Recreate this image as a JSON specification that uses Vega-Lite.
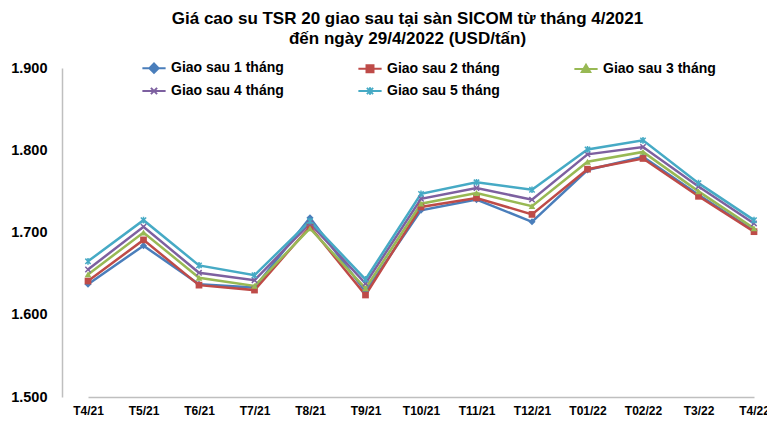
{
  "$schema": "https://vega.github.io/schema/vega-lite/v6.json",
  "width": 705,
  "height": 329,
  "autosize": {"type": "none"},
  "padding": {"left": 62, "top": 68, "right": 0, "bottom": 24},
  "background": "white",
  "title": {
    "text": ["Giá cao su TSR 20 giao sau tại sàn SICOM từ tháng 4/2021", "đến ngày 29/4/2022 (USD/tấn)"],
    "font": "Liberation Sans",
    "fontSize": 17,
    "fontWeight": "bold",
    "lineHeight": 20,
    "anchor": "middle",
    "dx": -7,
    "offset": 12,
    "color": "#000000"
  },
  "config": {
    "view": {"stroke": null},
    "legend": {
      "orient": "none",
      "legendX": 85,
      "legendY": -7,
      "direction": "horizontal",
      "columns": 3,
      "columnPadding": 70,
      "rowPadding": 6,
      "labelFont": "Liberation Sans",
      "labelFontSize": 14,
      "labelFontWeight": "bold",
      "labelColor": "#000000",
      "labelOffset": 10,
      "symbolSize": 60,
      "symbolStrokeWidth": 2,
      "title": null
    }
  },
  "data": {
    "values": [
      {"month": "T4/21", "series": "Giao sau 1 tháng", "value": 1637},
      {"month": "T5/21", "series": "Giao sau 1 tháng", "value": 1684},
      {"month": "T6/21", "series": "Giao sau 1 tháng", "value": 1637},
      {"month": "T7/21", "series": "Giao sau 1 tháng", "value": 1633},
      {"month": "T8/21", "series": "Giao sau 1 tháng", "value": 1718},
      {"month": "T9/21", "series": "Giao sau 1 tháng", "value": 1628},
      {"month": "T10/21", "series": "Giao sau 1 tháng", "value": 1727},
      {"month": "T11/21", "series": "Giao sau 1 tháng", "value": 1740},
      {"month": "T12/21", "series": "Giao sau 1 tháng", "value": 1713},
      {"month": "T01/22", "series": "Giao sau 1 tháng", "value": 1776},
      {"month": "T02/22", "series": "Giao sau 1 tháng", "value": 1792},
      {"month": "T3/22", "series": "Giao sau 1 tháng", "value": 1746},
      {"month": "T4/22", "series": "Giao sau 1 tháng", "value": 1702},
      {"month": "T4/21", "series": "Giao sau 2 tháng", "value": 1641},
      {"month": "T5/21", "series": "Giao sau 2 tháng", "value": 1691},
      {"month": "T6/21", "series": "Giao sau 2 tháng", "value": 1636},
      {"month": "T7/21", "series": "Giao sau 2 tháng", "value": 1630},
      {"month": "T8/21", "series": "Giao sau 2 tháng", "value": 1707},
      {"month": "T9/21", "series": "Giao sau 2 tháng", "value": 1624},
      {"month": "T10/21", "series": "Giao sau 2 tháng", "value": 1731},
      {"month": "T11/21", "series": "Giao sau 2 tháng", "value": 1742},
      {"month": "T12/21", "series": "Giao sau 2 tháng", "value": 1722},
      {"month": "T01/22", "series": "Giao sau 2 tháng", "value": 1777},
      {"month": "T02/22", "series": "Giao sau 2 tháng", "value": 1790},
      {"month": "T3/22", "series": "Giao sau 2 tháng", "value": 1744},
      {"month": "T4/22", "series": "Giao sau 2 tháng", "value": 1701},
      {"month": "T4/21", "series": "Giao sau 3 tháng", "value": 1649},
      {"month": "T5/21", "series": "Giao sau 3 tháng", "value": 1700},
      {"month": "T6/21", "series": "Giao sau 3 tháng", "value": 1645},
      {"month": "T7/21", "series": "Giao sau 3 tháng", "value": 1635},
      {"month": "T8/21", "series": "Giao sau 3 tháng", "value": 1705},
      {"month": "T9/21", "series": "Giao sau 3 tháng", "value": 1632},
      {"month": "T10/21", "series": "Giao sau 3 tháng", "value": 1735},
      {"month": "T11/21", "series": "Giao sau 3 tháng", "value": 1748},
      {"month": "T12/21", "series": "Giao sau 3 tháng", "value": 1732},
      {"month": "T01/22", "series": "Giao sau 3 tháng", "value": 1786},
      {"month": "T02/22", "series": "Giao sau 3 tháng", "value": 1798},
      {"month": "T3/22", "series": "Giao sau 3 tháng", "value": 1750},
      {"month": "T4/22", "series": "Giao sau 3 tháng", "value": 1705},
      {"month": "T4/21", "series": "Giao sau 4 tháng", "value": 1655},
      {"month": "T5/21", "series": "Giao sau 4 tháng", "value": 1707},
      {"month": "T6/21", "series": "Giao sau 4 tháng", "value": 1651},
      {"month": "T7/21", "series": "Giao sau 4 tháng", "value": 1642},
      {"month": "T8/21", "series": "Giao sau 4 tháng", "value": 1711},
      {"month": "T9/21", "series": "Giao sau 4 tháng", "value": 1638},
      {"month": "T10/21", "series": "Giao sau 4 tháng", "value": 1741},
      {"month": "T11/21", "series": "Giao sau 4 tháng", "value": 1754},
      {"month": "T12/21", "series": "Giao sau 4 tháng", "value": 1740},
      {"month": "T01/22", "series": "Giao sau 4 tháng", "value": 1795},
      {"month": "T02/22", "series": "Giao sau 4 tháng", "value": 1804},
      {"month": "T3/22", "series": "Giao sau 4 tháng", "value": 1756},
      {"month": "T4/22", "series": "Giao sau 4 tháng", "value": 1711},
      {"month": "T4/21", "series": "Giao sau 5 tháng", "value": 1665},
      {"month": "T5/21", "series": "Giao sau 5 tháng", "value": 1715},
      {"month": "T6/21", "series": "Giao sau 5 tháng", "value": 1660},
      {"month": "T7/21", "series": "Giao sau 5 tháng", "value": 1648},
      {"month": "T8/21", "series": "Giao sau 5 tháng", "value": 1714},
      {"month": "T9/21", "series": "Giao sau 5 tháng", "value": 1643},
      {"month": "T10/21", "series": "Giao sau 5 tháng", "value": 1747},
      {"month": "T11/21", "series": "Giao sau 5 tháng", "value": 1761},
      {"month": "T12/21", "series": "Giao sau 5 tháng", "value": 1752},
      {"month": "T01/22", "series": "Giao sau 5 tháng", "value": 1801},
      {"month": "T02/22", "series": "Giao sau 5 tháng", "value": 1812},
      {"month": "T3/22", "series": "Giao sau 5 tháng", "value": 1760},
      {"month": "T4/22", "series": "Giao sau 5 tháng", "value": 1715}
    ]
  },
  "encoding": {
    "x": {
      "field": "month",
      "type": "ordinal",
      "sort": null,
      "scale": {"type": "point", "range": [26, 692], "padding": 0},
      "axis": {
        "title": null,
        "labelAngle": 0,
        "labelFont": "Liberation Sans",
        "labelFontSize": 12,
        "labelFontWeight": "bold",
        "labelColor": "#000000",
        "labelPadding": 8,
        "ticks": false,
        "domainColor": "#BFBFBF",
        "domainWidth": 1.5,
        "grid": false
      }
    },
    "y": {
      "field": "value",
      "type": "quantitative",
      "scale": {"domain": [1500, 1900], "nice": false, "zero": false},
      "axis": {
        "title": null,
        "values": [1500, 1600, 1700, 1800, 1900],
        "labelExpr": "replace(format(datum.value, ','), ',', '.')",
        "labelFont": "Liberation Sans",
        "labelFontSize": 14.5,
        "labelFontWeight": "bold",
        "labelColor": "#000000",
        "labelPadding": 15,
        "ticks": false,
        "domainColor": "#BFBFBF",
        "domainWidth": 1.5,
        "grid": false
      }
    },
    "color": {
      "field": "series",
      "type": "nominal",
      "scale": {
        "domain": ["Giao sau 1 tháng", "Giao sau 2 tháng", "Giao sau 3 tháng", "Giao sau 4 tháng", "Giao sau 5 tháng"],
        "range": ["#4A7EBB", "#BE4B48", "#98B954", "#7D60A0", "#46AAC5"]
      },
      "legend": {
        "encode": {
          "symbols": {
            "update": {
              "shape": {"signal": "datum.value === 'Giao sau 1 tháng' ? 'M-3,0L3,0M0,-1.2L1.2,0L0,1.2L-1.2,0Z' : datum.value === 'Giao sau 2 tháng' ? 'M-3,0L3,0M-0.9,-0.9L0.9,-0.9L0.9,0.9L-0.9,0.9Z' : datum.value === 'Giao sau 3 tháng' ? 'M-3,0L3,0M0,-1.1L1.1,0.8L-1.1,0.8Z' : datum.value === 'Giao sau 4 tháng' ? 'M-3,0L3,0M-0.8,-0.8L0.8,0.8M-0.8,0.8L0.8,-0.8' : 'M-3,0L3,0M-0.8,-0.8L0.8,0.8M-0.8,0.8L0.8,-0.8M0,-1L0,1'"},
              "stroke": {"signal": "scale('color', datum.value)"},
              "fill": {"signal": "scale('color', datum.value)"},
              "strokeWidth": {"value": 2}
            }
          }
        }
      }
    }
  },
  "layer": [
    {
      "mark": {"type": "line", "strokeWidth": 2.5}
    },
    {
      "transform": [{"filter": "datum.series === 'Giao sau 1 tháng'"}],
      "mark": {"type": "point", "shape": "diamond", "filled": true, "size": 50, "opacity": 1}
    },
    {
      "transform": [{"filter": "datum.series === 'Giao sau 2 tháng'"}],
      "mark": {"type": "point", "shape": "square", "filled": true, "size": 45, "opacity": 1}
    },
    {
      "transform": [{"filter": "datum.series === 'Giao sau 3 tháng'"}],
      "mark": {"type": "point", "shape": "triangle-up", "filled": true, "size": 45, "opacity": 1}
    },
    {
      "transform": [{"filter": "datum.series === 'Giao sau 4 tháng'"}],
      "mark": {"type": "point", "shape": "M-0.8,-0.8L0.8,0.8M-0.8,0.8L0.8,-0.8", "filled": false, "size": 45, "strokeWidth": 1.5, "opacity": 1}
    },
    {
      "transform": [{"filter": "datum.series === 'Giao sau 5 tháng'"}],
      "mark": {"type": "point", "shape": "M-0.8,-0.8L0.8,0.8M-0.8,0.8L0.8,-0.8M0,-1L0,1", "filled": false, "size": 45, "strokeWidth": 1.5, "opacity": 1}
    }
  ]
}
